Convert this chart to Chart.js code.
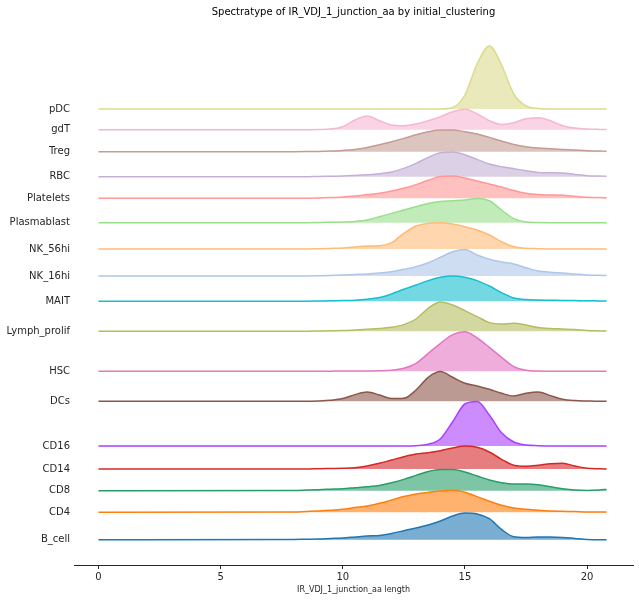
<!DOCTYPE html>
<html>
<head>
<meta charset="utf-8">
<script src="https://cdn.jsdelivr.net/npm/chart.js@4.4.1/dist/chart.umd.min.js"></script>
<style>
  body { margin: 0; background: #fff; }
  canvas { display: block; }
</style>
</head>
<body>
<canvas id="myChart" width="639" height="602"></canvas>
<script>
// junction length grid where the densities were read
const lengths = [0, 8, 8.5, 9, 9.5, 10, 10.5, 11, 11.5, 12, 12.5, 13, 13.5, 14, 14.5,
    15, 15.5, 16, 16.5, 17, 17.5, 18, 18.5, 19, 19.5, 20, 20.5, 20.8]

const categories = ['B_cell', 'CD4', 'CD8', 'CD14', 'CD16', 'DCs', 'HSC', 'Lymph_prolif',
    'MAIT', 'NK_16hi', 'NK_56hi', 'Plasmablast', 'Platelets', 'RBC', 'Treg', 'gdT', 'pDC']

// ridge offsets (same unit as the densities)
const offsets = [25.3, 52.7, 74.3, 96, 119, 163.7, 193.7, 233.7,
    263.7, 289, 316, 342.3, 366.7, 388.3, 413.3, 435.3, 456]

const colors = ['#1f77b4', '#ff7f0e', '#279e68', '#d62728', '#aa40fc', '#8c564b', '#e377c2', '#b5bd61',
    '#17becf', '#aec7e8', '#ffbb78', '#98df8a', '#ff9896', '#c5b0d5', '#c49c94', '#f7b6d2', '#dbdb8d']

// scaled density per category
const B_cell = [0, 0.3, 0.5, 0.7, 1.2, 1.7, 2.7, 3.7, 4.3, 6.3, 9, 11.7, 14.7, 18.7, 23.7, 26.7, 25.7, 21, 10.3, 3, 2.3, 2.7, 2.7, 2.3, 1.3, 0.3, 0, 0]
const CD4 = [0, 0.3, 0.8, 1.3, 2, 3, 4.7, 6.3, 9, 12.3, 15.7, 18.3, 20, 21.3, 22, 20, 15.7, 11, 7, 4.3, 3, 2, 1.3, 1, 0.7, 0.3, 0.3, 0.3]
const CD8 = [0, 0.3, 0.6, 1, 1.5, 2, 3, 4, 5.3, 8, 11.3, 15.3, 19.3, 21.3, 21.3, 18.7, 14.7, 10.7, 8, 6.7, 6.7, 6, 4, 2, 0.7, 0.3, 0.7, 1.3]
const CD14 = [0, 0, 0, 0.3, 0.5, 0.7, 1.3, 3, 5.7, 9, 12.3, 15, 16.3, 18.3, 21, 23, 21.7, 17, 9.7, 3.7, 2.7, 3.7, 5.3, 5.7, 3, 0.7, 0.2, 0]
const CD16 = [0, 0, 0, 0, 0, 0, 0, 0, 0, 0, 0, 0.3, 1.7, 7.3, 24.3, 42, 44.5, 31, 13.3, 4, 1, 0.3, 0, 0, 0, 0, 0, 0]
const DCs = [0, 0, 0, 0.3, 1, 2.7, 6.7, 9.3, 6.3, 2.7, 3, 11.3, 24, 29.7, 24, 18, 15.3, 12, 8, 5.3, 8, 9.3, 5.7, 2, 0.7, 0.3, 0, 0]
const HSC = [0, 0, 0, 0, 0.1, 0.3, 0.3, 0.3, 0.5, 1, 3, 8, 18, 28, 36.7, 39.5, 33.3, 24, 14, 4.7, 1, 0.3, 0, 0, 0, 0, 0, 0]
const Lymph_prolif = [0, 0, 0.1, 0.3, 0.5, 0.7, 1.3, 2, 2.7, 4, 6.7, 12.3, 23, 29.3, 26.3, 20.7, 14.7, 8.7, 7.3, 8, 6.3, 3.7, 2.7, 2.3, 1.7, 0.7, 0.4, 0.3]
const MAIT = [0, 0, 0.1, 0.3, 0.5, 0.7, 1, 2, 3.7, 7.3, 12, 16.3, 20.7, 24, 25.3, 24, 20.7, 15.3, 8.7, 3.3, 1.7, 1.3, 1.1, 0.9, 0.7, 0.5, 0.4, 0.3]
const NK_16hi = [0, 0, 0.1, 0.3, 0.6, 1, 1.5, 2, 3, 4.3, 6.7, 9.3, 13.3, 18.7, 24.3, 26.5, 21, 16.7, 14, 12, 8.3, 5, 3.7, 3, 2, 1, 0.7, 0.5]
const NK_56hi = [0, 0, 0.1, 0.3, 0.6, 1, 2, 3, 3.3, 6.3, 15.7, 23, 25.7, 26.3, 25, 22.3, 19, 14, 7.3, 2.3, 0.7, 0.3, 0, 0, 0, 0, 0, 0]
const Plasmablast = [0, 0, 0, 0.3, 0.5, 0.7, 1.3, 2.7, 6, 9.3, 12.7, 16, 19.3, 21.3, 22, 22.7, 24.3, 22, 12.7, 4, 0.7, 0.2, 0, 0, 0, 0, 0, 0]
const Platelets = [0, 0, 0.1, 0.3, 0.7, 1.3, 2.3, 3.7, 5, 7.3, 10, 13.7, 18, 21.7, 22.3, 20.3, 17.3, 14.3, 11.3, 7.7, 5, 3.7, 3.3, 3, 2, 1, 0.7, 0.5]
const RBC = [0, 0, 0, 0.3, 0.5, 0.7, 1.3, 2, 3, 4.7, 8.3, 13.3, 19.3, 24, 24.7, 22, 17.3, 12.7, 10, 8, 6, 4.3, 4, 3.7, 2.3, 1, 0.7, 0.5]
const Treg = [0, 0, 0.1, 0.3, 0.7, 1.3, 2.3, 4.3, 7, 10, 13.3, 17, 20, 21.7, 21.7, 20, 17.7, 14.3, 10.7, 7.3, 5, 3.7, 3, 2.3, 1.7, 1, 0.7, 0.5]
const gdT = [0, 0, 0, 0.2, 0.7, 3, 9.7, 13.7, 9, 4.7, 4, 5.7, 9, 13, 18, 20.5, 15.7, 9, 5.3, 7, 11, 12, 9, 4, 1.7, 0.7, 0.3, 0.2]
const pDC = [0, 0, 0, 0, 0, 0, 0, 0, 0, 0, 0, 0, 0, 0, 1.5, 14, 45, 63, 44, 15, 3, 0.5, 0, 0, 0, 0, 0, 0]

const densities = [B_cell, CD4, CD8, CD14, CD16, DCs, HSC, Lymph_prolif,
    MAIT, NK_16hi, NK_56hi, Plasmablast, Platelets, RBC, Treg, gdT, pDC]

const xTicks = [0, 5, 10, 15, 20]

function withAlpha(hex, a) {
    const n = parseInt(hex.slice(1), 16)
    return 'rgba(' + (n >> 16) + ',' + ((n >> 8) & 255) + ',' + (n & 255) + ',' + a + ')'
}

const datasets = categories.map((name, i) => ({
    label: name,
    data: lengths.map((x, j) => ({ x: x, y: offsets[i] + densities[i][j] })),
    borderColor: colors[i],
    backgroundColor: withAlpha(colors[i], 0.6),
    borderWidth: 1.5,
    pointRadius: 0,
    cubicInterpolationMode: 'monotone',
    fill: { value: offsets[i] }
}))

const ctx = document.getElementById('myChart')
const font = 'DejaVu Sans'

const chart = new Chart(ctx, {
    type: 'line',
    data: { datasets: datasets },
    options: {
        responsive: false,
        animation: false,
        layout: { padding: { right: 6 } },
        plugins: {
            legend: { display: false },
            tooltip: { enabled: false },
            title: {
                display: true,
                fullSize: false,
                text: 'Spectratype of IR_VDJ_1_junction_aa by initial_clustering',
                color: '#000',
                font: { family: font, size: 10, weight: 'normal' },
                padding: { top: 6, bottom: 14 }
            }
        },
        scales: {
            x: {
                type: 'linear',
                min: -1.0,
                max: 21.88,
                afterBuildTicks: s => { s.ticks = xTicks.map(v => ({ value: v })) },
                afterFit: s => { s.height = 37 },
                grid: { drawOnChartArea: false, drawTicks: true, tickLength: 4, tickColor: '#262626', tickWidth: 1 },
                border: { display: true, color: '#262626', width: 1 },
                ticks: { color: '#262626', padding: 2, maxRotation: 0, font: { family: font, size: 10 } },
                title: {
                    display: true,
                    text: 'IR_VDJ_1_junction_aa length',
                    color: '#262626',
                    font: { family: font, size: 8 },
                    padding: { top: 2, bottom: 7 }
                }
            },
            y: {
                type: 'linear',
                min: 0,
                max: 533,
                afterBuildTicks: s => { s.ticks = offsets.map(v => ({ value: v })) },
                afterFit: s => { s.width = 74 },
                grid: { display: false, drawTicks: false },
                border: { display: false },
                ticks: {
                    autoSkip: false,
                    padding: 4,
                    color: '#262626',
                    font: { family: font, size: 10 },
                    callback: (value, index) => categories[index]
                }
            }
        }
    }
})
</script>
</body>
</html>
